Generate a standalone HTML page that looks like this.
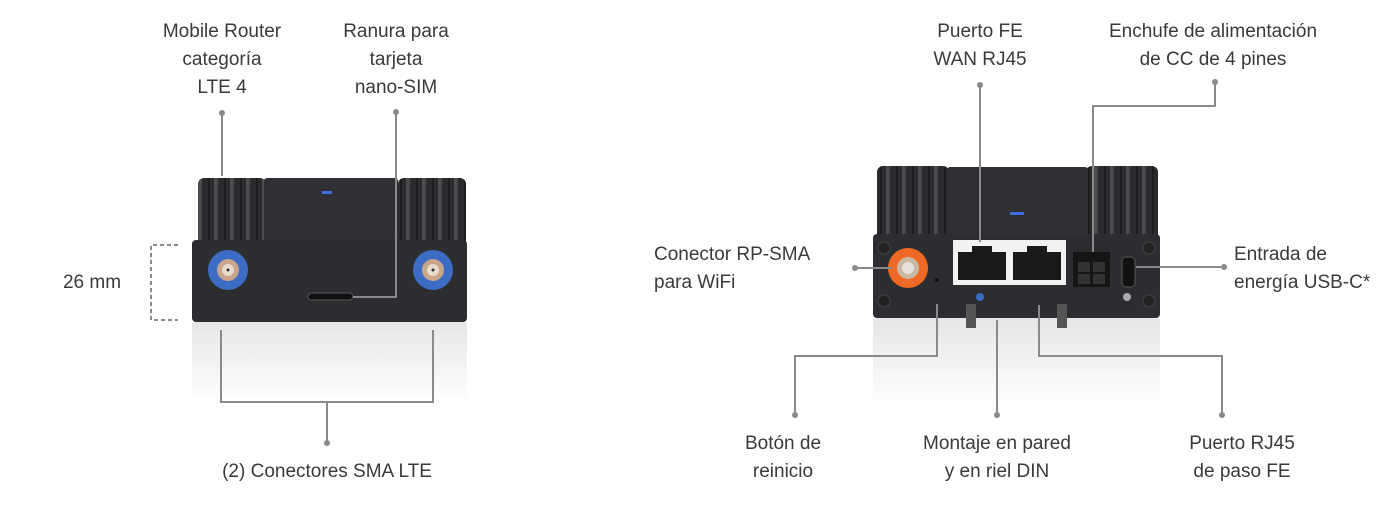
<!DOCTYPE html>
<html><head><meta charset="utf-8"><style>
html,body{margin:0;padding:0;background:#fff;}
svg{display:block}
text{font-family:"Liberation Sans",sans-serif;font-size:19px;fill:#3a3a3a;text-anchor:middle}
.l{stroke:#8a8a8a;stroke-width:2;fill:none}
.d{fill:#8a8a8a}
</style></head><body>
<svg width="1400" height="519" viewBox="0 0 1400 519">
<defs>
<linearGradient id="refl" x1="0" y1="0" x2="0" y2="1">
<stop offset="0" stop-color="#e6e6e6"/><stop offset="1" stop-color="#fff"/>
</linearGradient>
<pattern id="fin" width="16" height="80" patternUnits="userSpaceOnUse">
<rect width="16" height="80" fill="#2a2b2d"/><rect x="6" width="4" height="80" fill="#4a4b4e"/><rect x="0" width="2" height="80" fill="#1c1d1f"/>
</pattern>
</defs>
<!-- LEFT labels -->
<text x="222" y="37">Mobile Router</text>
<text x="222" y="65">categoría</text>
<text x="222" y="93">LTE 4</text>
<text x="396" y="37">Ranura para</text>
<text x="396" y="65">tarjeta</text>
<text x="396" y="93">nano-SIM</text>
<text x="92" y="288">26 mm</text>
<text x="327" y="477">(2) Conectores SMA LTE</text>
<!-- left reflection -->
<rect x="192" y="322" width="275" height="80" fill="url(#refl)"/>
<!-- left device -->
<rect x="198" y="178" width="68" height="70" rx="6" fill="url(#fin)"/>
<rect x="398" y="178" width="68" height="70" rx="6" fill="url(#fin)"/>
<rect x="264" y="178" width="134" height="64" rx="3" fill="#2f3033"/>
<rect x="322" y="191" width="10" height="3" fill="#3b6fe0"/>
<rect x="192" y="240" width="275" height="82" rx="4" fill="#2c2d30"/>
<circle cx="228" cy="270" r="20" fill="#3d6cc4"/><circle cx="228" cy="270" r="11" fill="#c9a58a"/><circle cx="228" cy="270" r="6" fill="#e8dcd0"/><circle cx="228" cy="270" r="1.5" fill="#333"/>
<circle cx="433" cy="270" r="20" fill="#3d6cc4"/><circle cx="433" cy="270" r="11" fill="#c9a58a"/><circle cx="433" cy="270" r="6" fill="#e8dcd0"/><circle cx="433" cy="270" r="1.5" fill="#333"/>
<rect x="308" y="293" width="45" height="7" rx="3.5" fill="#111" stroke="#555"/>
<!-- left lines -->
<circle class="d" cx="222" cy="113" r="3"/><line class="l" x1="222" y1="113" x2="222" y2="176"/>
<circle class="d" cx="396" cy="112" r="3"/><polyline class="l" points="396,112 396,297 353,297"/>
<polyline class="l" points="178,245 151,245 151,320 178,320" stroke-dasharray="4,3"/>
<polyline class="l" points="221,330 221,402 433,402 433,330"/>
<line class="l" x1="327" y1="402" x2="327" y2="442"/><circle class="d" cx="327" cy="443" r="3"/>

<!-- RIGHT labels -->
<text x="980" y="37">Puerto FE</text>
<text x="980" y="65">WAN RJ45</text>
<text x="1213" y="37">Enchufe de alimentación</text>
<text x="1213" y="65">de CC de 4 pines</text>
<text x="654" y="260" style="text-anchor:start">Conector RP-SMA</text>
<text x="654" y="288" style="text-anchor:start">para WiFi</text>
<text x="1234" y="260" style="text-anchor:start">Entrada de</text>
<text x="1234" y="288" style="text-anchor:start">energía USB-C*</text>
<text x="783" y="449">Botón de</text>
<text x="783" y="477">reinicio</text>
<text x="997" y="449">Montaje en pared</text>
<text x="997" y="477">y en riel DIN</text>
<text x="1242" y="449">Puerto RJ45</text>
<text x="1242" y="477">de paso FE</text>
<!-- right reflection -->
<rect x="873" y="318" width="287" height="90" fill="url(#refl)"/>
<!-- right device -->
<rect x="877" y="166" width="72" height="75" rx="6" fill="url(#fin)"/>
<rect x="1086" y="166" width="72" height="75" rx="6" fill="url(#fin)"/>
<rect x="947" y="167" width="141" height="70" rx="3" fill="#2f3033"/>
<rect x="1010" y="212" width="14" height="3" fill="#3b6fe0"/>
<rect x="873" y="234" width="287" height="84" rx="4" fill="#2c2d30"/>
<circle cx="884" cy="248" r="6" fill="#222" stroke="#444"/><circle cx="884" cy="301" r="6" fill="#222" stroke="#444"/>
<circle cx="1149" cy="248" r="6" fill="#222" stroke="#444"/><circle cx="1149" cy="301" r="6" fill="#222" stroke="#444"/>
<circle cx="908" cy="268" r="20" fill="#f06a25"/><circle cx="908" cy="268" r="11" fill="#c9b6a4"/><circle cx="908" cy="268" r="6" fill="#e8e0d8"/>
<circle cx="937" cy="280" r="2" fill="#111"/>
<rect x="953" y="240" width="113" height="45" fill="#f2f2f2"/>
<rect x="958" y="252" width="48" height="28" fill="#1a1a1a"/><rect x="972" y="246" width="20" height="7" fill="#1a1a1a"/>
<rect x="1013" y="252" width="48" height="28" fill="#1a1a1a"/><rect x="1027" y="246" width="20" height="7" fill="#1a1a1a"/>
<rect x="1073" y="252" width="37" height="35" fill="#151515"/>
<rect x="1078" y="262" width="12" height="10" fill="#333"/><rect x="1093" y="262" width="12" height="10" fill="#333"/>
<rect x="1078" y="274" width="12" height="10" fill="#333"/><rect x="1093" y="274" width="12" height="10" fill="#333"/>
<rect x="1122" y="257" width="13" height="30" rx="4" fill="#111" stroke="#555"/>
<circle cx="980" cy="297" r="4" fill="#3d6cc4"/>
<circle cx="1127" cy="297" r="4" fill="#aaa"/>
<rect x="966" y="304" width="10" height="24" fill="#555"/><rect x="1057" y="304" width="10" height="24" fill="#555"/>
<!-- right lines -->
<circle class="d" cx="980" cy="85" r="3"/><line class="l" x1="980" y1="85" x2="980" y2="242"/>
<circle class="d" cx="1215" cy="82" r="3"/><polyline class="l" points="1215,82 1215,106 1093,106 1093,252"/>
<polyline class="l" points="1136,267 1224,267"/><circle class="d" cx="1224" cy="267" r="3"/>
<circle class="d" cx="855" cy="268" r="3"/><line class="l" x1="855" y1="268" x2="892" y2="268"/>
<polyline class="l" points="937,304 937,356 795,356 795,414"/><circle class="d" cx="795" cy="415" r="3"/>
<line class="l" x1="997" y1="320" x2="997" y2="414"/><circle class="d" cx="997" cy="415" r="3"/>
<polyline class="l" points="1039,305 1039,356 1222,356 1222,414"/><circle class="d" cx="1222" cy="415" r="3"/>
</svg>
</body></html>
